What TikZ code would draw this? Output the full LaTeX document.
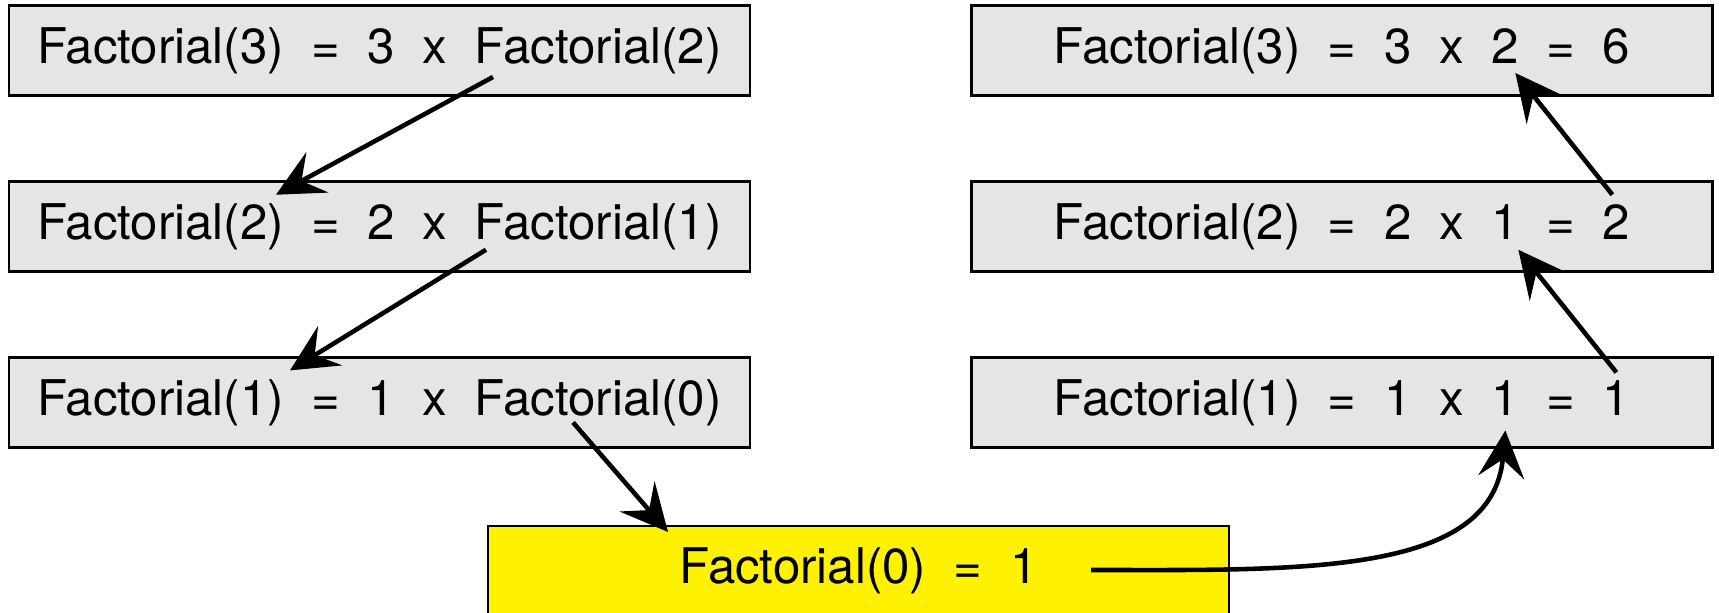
\documentclass[tikz,border=0pt]{standalone}
\usepackage{fontspec}
\setmainfont{TeX Gyre Heros}
\usetikzlibrary{arrows.meta,positioning}
\newcommand{\eqgap}{\hspace{0.56em}}

\begin{document}
\begin{tikzpicture}[
    font=\fontsize{14}{17}\selectfont,
    call/.style={draw=black, line width=0.7pt, fill=black!10, rectangle, inner sep=0pt, minimum width=7.41cm, minimum height=0.9cm, align=center},
    base/.style={call, fill=yellow},
    arr/.style={-{Stealth[length=4.7mm, width=4.6mm, inset=1.8mm]}, line width=1.3pt}
]
\useasboundingbox (0,0) rectangle (17.19,-6.13);

% calls going down
\node[call] (f3) at (3.794,-0.505) {Factorial(3)\eqgap=\eqgap3\eqgap x\eqgap Factorial(2)};
\node[call, below=0.835cm of f3] (f2) {Factorial(2)\eqgap=\eqgap2\eqgap x\eqgap Factorial(1)};
\node[call, below=0.835cm of f2] (f1) {Factorial(1)\eqgap=\eqgap1\eqgap x\eqgap Factorial(0)};

% results coming back up
\node[call, right=2.19cm of f3] (r3) {Factorial(3)\eqgap=\eqgap3\eqgap x\eqgap 2\eqgap=\eqgap6};
\node[call, right=2.19cm of f2] (r2) {Factorial(2)\eqgap=\eqgap2\eqgap x\eqgap 1\eqgap=\eqgap2};
\node[call, right=2.19cm of f1] (r1) {Factorial(1)\eqgap=\eqgap1\eqgap x\eqgap 1\eqgap=\eqgap1};

\node[base] (f0) at (8.585,-5.71) {Factorial(0)\eqgap=\eqgap1};

\draw[arr] ([shift={(1.136,-0.265)}]f3.center) -- ([shift={(-1.034,0.317)}]f2.center);
\draw[arr] ([shift={(1.066,-0.233)}]f2.center) -- ([shift={(-0.894,0.32)}]f1.center);
\draw[arr] ([shift={(1.936,-0.2)}]f1.center) -- ([shift={(-1.905,0.39)}]f0.center);
\draw[arr] ([shift={(2.325,0.01)}]f0.center) .. controls +(2.09,0) and +(-0.13,-1.46) .. ([shift={(1.635,-0.28)}]r1.center);
\draw[arr] ([shift={(2.745,0.3)}]r1.center) -- ([shift={(1.765,-0.233)}]r2.center);
\draw[arr] ([shift={(2.705,0.317)}]r2.center) -- ([shift={(1.735,-0.225)}]r3.center);

\end{tikzpicture}
\end{document}
